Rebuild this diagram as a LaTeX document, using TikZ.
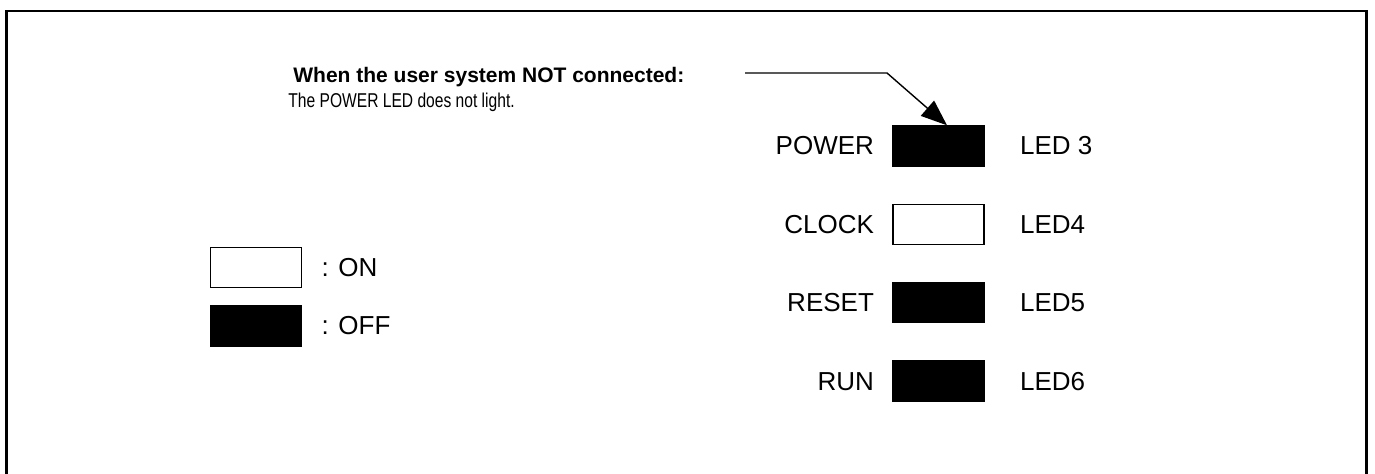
\documentclass[tikz,border=0pt]{standalone}
\usepackage{fontspec}
\setmainfont{Liberation Sans}
\setsansfont{Liberation Sans}
\newfontfamily\notefont[FakeStretch=0.78]{Liberation Sans}
\usepackage{tikz}
\usetikzlibrary{positioning,calc,arrows.meta}
\tikzstyle{every picture}+=[font=\sffamily]
\tikzset{%
  ledon/.style={%
    draw, fill=white, line width=0.7pt,
    minimum width=45.5pt, minimum height=20pt, inner sep=0pt
  },
  ledoff/.style={%
    ledon, fill=black
  },
  ledname/.style={%
    font=\fontsize{13}{15}\selectfont, inner sep=0pt
  },
  frame/.style={line width=1.3pt},
  pointer/.style={line width=0.7pt, -{Triangle[length=13pt,width=10pt]}},
  notetitle/.style={%
    font=\fontsize{10.5}{12}\selectfont\bfseries, inner sep=0pt, anchor=base west
  },
  notetext/.style={%
    font=\notefont\fontsize{10}{12}\selectfont, inner sep=0pt, anchor=base west
  },
}

\begin{document}
\begin{tikzpicture}[x=0.5pt, y=-0.5pt]
        \useasboundingbox (0,0) rectangle (1375,474);
        \draw[frame] (6.3,474) -- (6.3,11) -- (1366.7,11) -- (1366.7,474);

        % LEDs
        \node (POWERLED)[ledoff] at (938.5,146) {};
        \node (CLOCKLED)[ledon, below=18.5pt of POWERLED] {};
        \node (RESETLED)[ledoff, below=18.5pt of CLOCKLED] {};
        \node (RUNLED)[ledoff, below=18.5pt of RESETLED] {};

        \node (POWER)[ledname, left=9pt of POWERLED] {POWER};
        \node (CLOCK)[ledname, left=9pt of CLOCKLED] {CLOCK};
        \node (RESET)[ledname, left=9pt of RESETLED] {RESET};
        \node (RUN)[ledname, left=9pt of RUNLED] {RUN};

        \node (LEDTHREE)[ledname, right=17.5pt of POWERLED] {LED 3};
        \node (LEDFOUR)[ledname, right=17.5pt of CLOCKLED] {LED4};
        \node (LEDFIVE)[ledname, right=17.5pt of RESETLED] {LED5};
        \node (LEDSIX)[ledname, right=17.5pt of RUNLED] {LED6};

        % legend
        \node (ONBOX)[ledon] at (256,267.5) {};
        \node (OFFBOX)[ledoff, below=8.5pt of ONBOX] {};
        \node (ON)[ledname, right=9.5pt of ONBOX] {: ON};
        \node (OFF)[ledname, right=9.5pt of OFFBOX] {: OFF};

        % note
        \node (NOTETITLE)[notetitle] at (293,83) {When the user system NOT connected:};
        \node (NOTETEXT)[notetext] at (288,108) {The POWER LED does not light.};

        \coordinate (NOTESTART) at (745,73);
        \coordinate (NOTEBEND) at (887,73);
        \draw[pointer] (NOTESTART) -- (NOTEBEND) -- ([xshift=4.25pt]POWERLED.north);
    \end{tikzpicture}
\end{document}
